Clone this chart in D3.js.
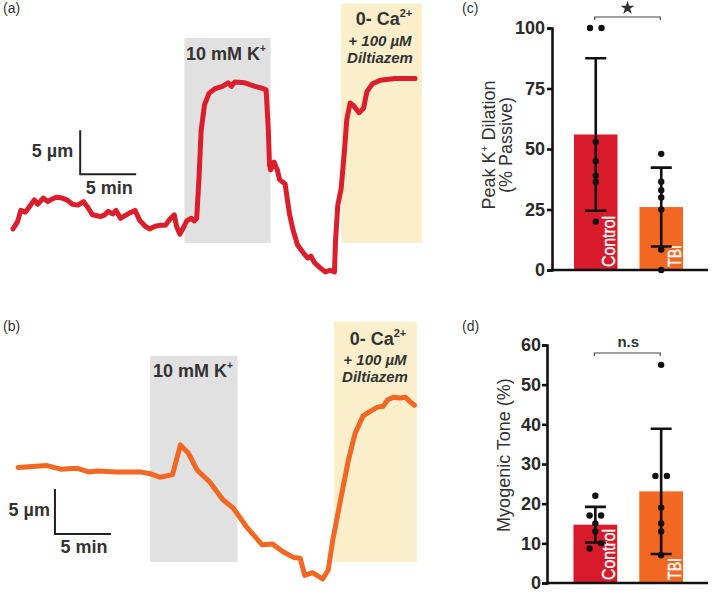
<!DOCTYPE html>
<html><head><meta charset="utf-8">
<script src="https://cdn.jsdelivr.net/npm/d3@7"></script>
<style>body{margin:0;background:#fff}svg{display:block}</style>
</head><body>
<svg id="chart" width="712" height="592"></svg>
<script>
// ---------- DATA ----------
// Trace (a) control artery: time (min) and diameter change (µm)
const traceATime = [0,0.4,0.7,1.1,1.4,1.9,2.2,2.7,3.1,3.5,3.9,4.4,4.8,5.3,5.8,6.3,6.7,7.1,7.8,8.2,8.5,8.9,9.2,9.6,10.0,10.4,10.9,11.3,11.8,12.2,12.7,13.1,13.6,14.0,14.4,14.6,14.9,15.2,15.5,15.9,16.2,16.4,16.6,16.8,17.1,17.5,18.0,18.7,19.2,19.5,19.8,20.7,21.6,22.2,22.6,22.8,22.9,23.0,23.3,23.6,23.8,24.3,24.5,24.7,25.0,25.4,25.9,26.3,26.6,26.9,27.4,27.9,28.3,28.7,28.8,29.0,29.3,29.6,29.8,30.1,30.4,30.9,31.3,31.6,32.1,32.8,34.1,35.9];
const traceADiam = [4.9,5.7,7.0,6.8,7.3,8.2,7.7,8.4,8.0,8.3,8.5,8.4,8.2,7.7,7.6,8.0,7.3,6.5,6.3,6.5,6.9,6.6,7.0,6.1,6.4,6.7,7.0,5.9,5.2,4.9,5.2,5.3,5.3,6.0,6.5,5.2,4.3,5.0,5.8,6.1,5.8,6.1,10.5,16.1,19.0,20.3,20.8,21.1,21.5,21.1,21.6,21.5,21.1,20.9,20.7,16.1,12.2,11.6,12.5,11.6,10.5,10.0,8.2,6.5,4.8,3.1,2.2,1.6,1.8,1.1,0.5,0,0.2,0,3.6,7.6,9.5,13.9,17.3,19.2,18.9,18.1,18.6,20.5,21.4,21.8,22.0,22.0];
// Trace (b) TBI artery
const traceBTime = [0,2.6,3.8,5.3,6.3,7.1,8.8,10.9,11.8,12.7,13.8,14.5,15.2,16.0,17.1,18.3,19.2,20.4,21.8,22.7,23.7,24.6,25.2,25.6,26.3,27.2,27.7,28.1,28.8,29.5,30.1,30.8,31.4,32.1,32.6,33.0,33.5,34.1,34.6,35.0,35.4];
const traceBDiam = [12.4,12.6,12.2,12.3,11.9,12.0,11.9,11.9,11.7,11.3,11.6,14.9,14.0,12.1,10.8,8.8,7.9,5.8,3.8,3.9,3.0,2.4,2.3,0.4,0.7,0,1.0,4.3,8.8,13.2,16.2,18.1,18.6,19.1,19.2,19.9,20.2,20.1,20.2,19.7,19.3];
// Treatment windows [start, end] in minutes
const windowsA = {k: [15.3, 23.0], ca: [29.3, 36.5]};
const windowsB = {k: [11.8, 19.6], ca: [28.2, 35.6]};

// Bar charts
const groups = ["Control", "TBI"];
const peakMean = [56, 26];
const peakSD = [31.5, 16.3];
const peakControl = [100, 100, 53, 45, 39, 36.5, 20];
const peakTBI = [48, 36.5, 33, 30, 25, 8.5, 0];
const peakTicks = [0, 25, 50, 75, 100];

const toneMean = [14.7, 23.1];
const toneSD = [4.5, 15.8];
const toneControl = [22, 17, 17, 15, 13, 10, 8.7];
const toneTBI = [55, 27, 27, 19, 15, 13, 7];
const toneTicks = [0, 10, 20, 30, 40, 50, 60];

// ---------- DRAW ----------
const FONT = "'Liberation Sans', Arial, Helvetica, sans-serif";
const DARK = "#333333";
const RED = "#d91a2a", ORANGE = "#f26722";
const GRAYBOX = "#e1e1e1", YELLOWBOX = "#fbeecb";
const svg = d3.select("#chart").style("font-family", FONT);
svg.append("rect").attr("width", 712).attr("height", 592).attr("fill", "#fff");

function panelLabel(t, x, y) {
  svg.append("text").attr("x", x).attr("y", y).attr("font-size", 14)
    .attr("fill", DARK).text(t);
}

function tracePanel(cfg) {
  const g = svg.append("g");
  const x = d3.scaleLinear().domain([0, 36.5]).range([cfg.x0, cfg.x0 + 36.5 * 11.2]);
  const y = d3.scaleLinear().domain([0, 30]).range([cfg.y0, cfg.y0 - 30 * cfg.pxPerUm]);
  // windows
  g.append("rect").attr("x", x(cfg.win.k[0])).attr("width", x(cfg.win.k[1]) - x(cfg.win.k[0]))
    .attr("y", y(cfg.kTop)).attr("height", y(cfg.boxBottom) - y(cfg.kTop)).attr("fill", GRAYBOX);
  g.append("rect").attr("x", x(cfg.win.ca[0])).attr("width", x(cfg.win.ca[1]) - x(cfg.win.ca[0]))
    .attr("y", y(cfg.caTop)).attr("height", y(cfg.boxBottom) - y(cfg.caTop)).attr("fill", YELLOWBOX);
  // annotations
  const k = g.append("text").attr("x", cfg.kText[0]).attr("y", cfg.kText[1]).attr("text-anchor", "middle")
    .attr("font-size", 18).attr("font-weight", "bold").attr("fill", DARK);
  k.append("tspan").text("10 mM K");
  k.append("tspan").attr("dy", -8).attr("font-size", 10).text("+");
  const ca = g.append("text").attr("x", cfg.caText[0]).attr("y", cfg.caText[1]).attr("text-anchor", "middle")
    .attr("font-size", 18).attr("font-weight", "bold").attr("fill", DARK);
  ca.append("tspan").text("0- Ca");
  ca.append("tspan").attr("dy", -8).attr("font-size", 11).text("2+");
  g.append("text").attr("x", cfg.dilText[0]).attr("y", cfg.dilText[1]).attr("text-anchor", "middle")
    .attr("font-size", 15).attr("font-weight", "bold").attr("font-style", "italic").attr("fill", DARK)
    .text("+ 100 µM");
  g.append("text").attr("x", cfg.dilText[0]).attr("y", cfg.dilText[1] + 17).attr("text-anchor", "middle")
    .attr("font-size", 15).attr("font-weight", "bold").attr("font-style", "italic").attr("fill", DARK)
    .text("Diltiazem");
  // trace
  const line = d3.line().x((d, i) => x(cfg.t[i])).y(d => y(d));
  g.append("path").datum(cfg.d).attr("d", line).attr("fill", "none").attr("stroke", cfg.color)
    .attr("stroke-width", 5).attr("stroke-linejoin", "round").attr("stroke-linecap", "round");
  // scale bar 5 µm / 5 min
  const sx = x(cfg.bar[0]), sy = y(cfg.bar[1]);
  const sTop = y(cfg.bar[1] + 5), sRight = x(cfg.bar[0] + 5);
  g.append("path").attr("d", `M${sx},${sTop}V${sy}H${sRight}`).attr("fill", "none")
    .attr("stroke", "#222").attr("stroke-width", 2);
  g.append("text").attr("x", sx - cfg.umGap).attr("y", (sTop + sy) / 2 + cfg.umDy).attr("text-anchor", "end")
    .attr("font-size", 18).attr("font-weight", "bold").attr("fill", DARK).text("5 µm");
  g.append("text").attr("x", (sx + sRight) / 2 + 1).attr("y", sy + cfg.minDy).attr("text-anchor", "middle")
    .attr("font-size", 18).attr("font-weight", "bold").attr("fill", DARK).text("5 min");
}

tracePanel({x0: 13, y0: 272, pxPerUm: 8.8, t: traceATime, d: traceADiam, color: "#dc1d2b",
  win: windowsA, kTop: 26.6, caTop: 30.5, boxBottom: 3.3,
  kText: [226, 60], caText: [384, 25], dilText: [380, 46],
  bar: [6, 11.1], umGap: 7, umDy: 5, minDy: 20});
tracePanel({x0: 18, y0: 579, pxPerUm: 9, t: traceBTime, d: traceBDiam, color: "#f26722",
  win: windowsB, kTop: 24.8, caTop: 28.6, boxBottom: 1.9,
  kText: [193, 377], caText: [378, 345], dilText: [375, 365],
  bar: [3.3, 5.0], umGap: 5, umDy: 4, minDy: 19});

panelLabel("(a)", 3, 13);
panelLabel("(b)", 3, 331);
panelLabel("(c)", 462, 13);
panelLabel("(d)", 462, 331);

function barPanel(cfg) {
  const g = svg.append("g");
  const x = d3.scaleBand().domain(groups).range([cfg.bx0, cfg.bx1]).paddingInner(0.336).paddingOuter(0);
  const y = d3.scaleLinear().domain([0, cfg.max]).range([cfg.y0, cfg.y1]);
  const colors = [RED, ORANGE];
  // bars
  g.selectAll("rect.bar").data(groups).enter().append("rect")
    .attr("x", d => x(d)).attr("width", x.bandwidth())
    .attr("y", (d, i) => y(cfg.mean[i])).attr("height", (d, i) => y(0) - y(cfg.mean[i]))
    .attr("fill", (d, i) => colors[i]);
  // bar labels (narrow white text)
  const labelLen = {Control: 51, TBI: 22};
  groups.forEach((gname, i) => {
    g.append("text").attr("transform", `translate(${x(gname) + x.bandwidth() - 2},${y(0) - 3}) rotate(-90)`)
      .attr("font-size", 19).attr("font-weight", "normal").attr("fill", "#fff")
      .attr("stroke", "#fff").attr("stroke-width", 0.4)
      .attr("textLength", labelLen[gname]).attr("lengthAdjust", "spacingAndGlyphs").text(gname);
  });
  // error bars
  groups.forEach((gname, i) => {
    const cx = x(gname) + x.bandwidth() / 2;
    const hi = y(cfg.mean[i] + cfg.sd[i]), lo = y(cfg.mean[i] - cfg.sd[i]);
    g.append("path").attr("d", `M${cx},${hi}V${lo}M${cx - 10.5},${hi}H${cx + 10.5}M${cx - 10.5},${lo}H${cx + 10.5}`)
      .attr("stroke", "#111").attr("stroke-width", 2.6).attr("fill", "none");
  });
  // points (equal/overlapping values spread sideways)
  [cfg.ctrl, cfg.tbi].forEach((vals, gi) => {
    const cx = x(groups[gi]) + x.bandwidth() / 2;
    const sorted = vals.slice().sort((a, b) => b - a);
    const clusters = [];
    sorted.forEach(v => {
      const last = clusters[clusters.length - 1];
      if (last && Math.abs(y(last[last.length - 1]) - y(v)) < 6) last.push(v); else clusters.push([v]);
    });
    clusters.forEach(c => c.forEach((v, i) => {
      const off = ((c.length - 1) / 2 - i) * 11.5;
      g.append("circle").attr("cx", cx + off).attr("cy", y(v)).attr("r", 3.2).attr("fill", "#111");
    }));
  });
  // axes
  const ax = g.append("g").attr("transform", `translate(${cfg.ax},0)`)
    .call(d3.axisLeft(y).tickValues(cfg.ticks).tickSizeOuter(0).tickSize(5).tickPadding(cfg.pad));
  ax.select(".domain").attr("stroke", "#111").attr("stroke-width", 2.6);
  ax.selectAll(".tick line").attr("stroke", "#111").attr("stroke-width", 2.6);
  ax.selectAll(".tick text").attr("font-family", FONT).attr("font-size", 18).attr("font-weight", "bold").attr("fill", "#2a2a2a");
  g.append("line").attr("x1", cfg.ax - 1.3).attr("x2", 708).attr("y1", y(0)).attr("y2", y(0))
    .attr("stroke", "#111").attr("stroke-width", 2.6);
  // significance bracket
  const c0 = x(groups[0]) + x.bandwidth() / 2, c1 = x(groups[1]) + x.bandwidth() / 2;
  g.append("path").attr("d", `M${c0 - 1},${cfg.brY + 3}V${cfg.brY}H${c1 - 1}V${cfg.brY + 3}`)
    .attr("fill", "none").attr("stroke", "#444").attr("stroke-width", 1.2);
  if (cfg.star) {
    g.append("path").attr("d", d3.symbol(d3.symbolStar, 60)())
      .attr("transform", `translate(${(c0 + c1) / 2 - 1},${cfg.brY - 9})`).attr("fill", "#333");
  } else {
    g.append("text").attr("x", (c0 + c1) / 2).attr("y", cfg.brY - 6).attr("text-anchor", "middle")
      .attr("font-size", 15).attr("font-weight", "bold").attr("fill", DARK).text("n.s");
  }
  // y label
  const yl = g.append("g").attr("transform", `translate(${cfg.yl[0]},${cfg.yl[1]}) rotate(-90)`);
  cfg.ylabel(yl);
}

barPanel({bx0: 574, bx1: 683, y0: 270, y1: 28, max: 100, ax: 552, pad: 2,
  mean: peakMean, sd: peakSD, ctrl: peakControl, tbi: peakTBI, ticks: peakTicks,
  brY: 17, star: true, yl: [495, 145],
  ylabel: g => {
    const t1 = g.append("text").attr("text-anchor", "middle").attr("font-size", 18).attr("fill", DARK);
    t1.append("tspan").text("Peak K");
    t1.append("tspan").attr("dy", -7).attr("font-size", 10).text("+");
    t1.append("tspan").attr("dy", 7).text(" Dilation");
    g.append("text").attr("y", 17).attr("text-anchor", "middle").attr("font-size", 18).attr("fill", DARK)
      .text("(% Passive)");
  }});
barPanel({bx0: 573.5, bx1: 683, y0: 583, y1: 345, max: 60, ax: 547, pad: 1,
  mean: toneMean, sd: toneSD, ctrl: toneControl, tbi: toneTBI, ticks: toneTicks,
  brY: 353, star: false, yl: [510, 455],
  ylabel: g => {
    g.append("text").attr("text-anchor", "middle").attr("font-size", 18).attr("fill", DARK)
      .text("Myogenic Tone (%)");
  }});
</script>
</body></html>
